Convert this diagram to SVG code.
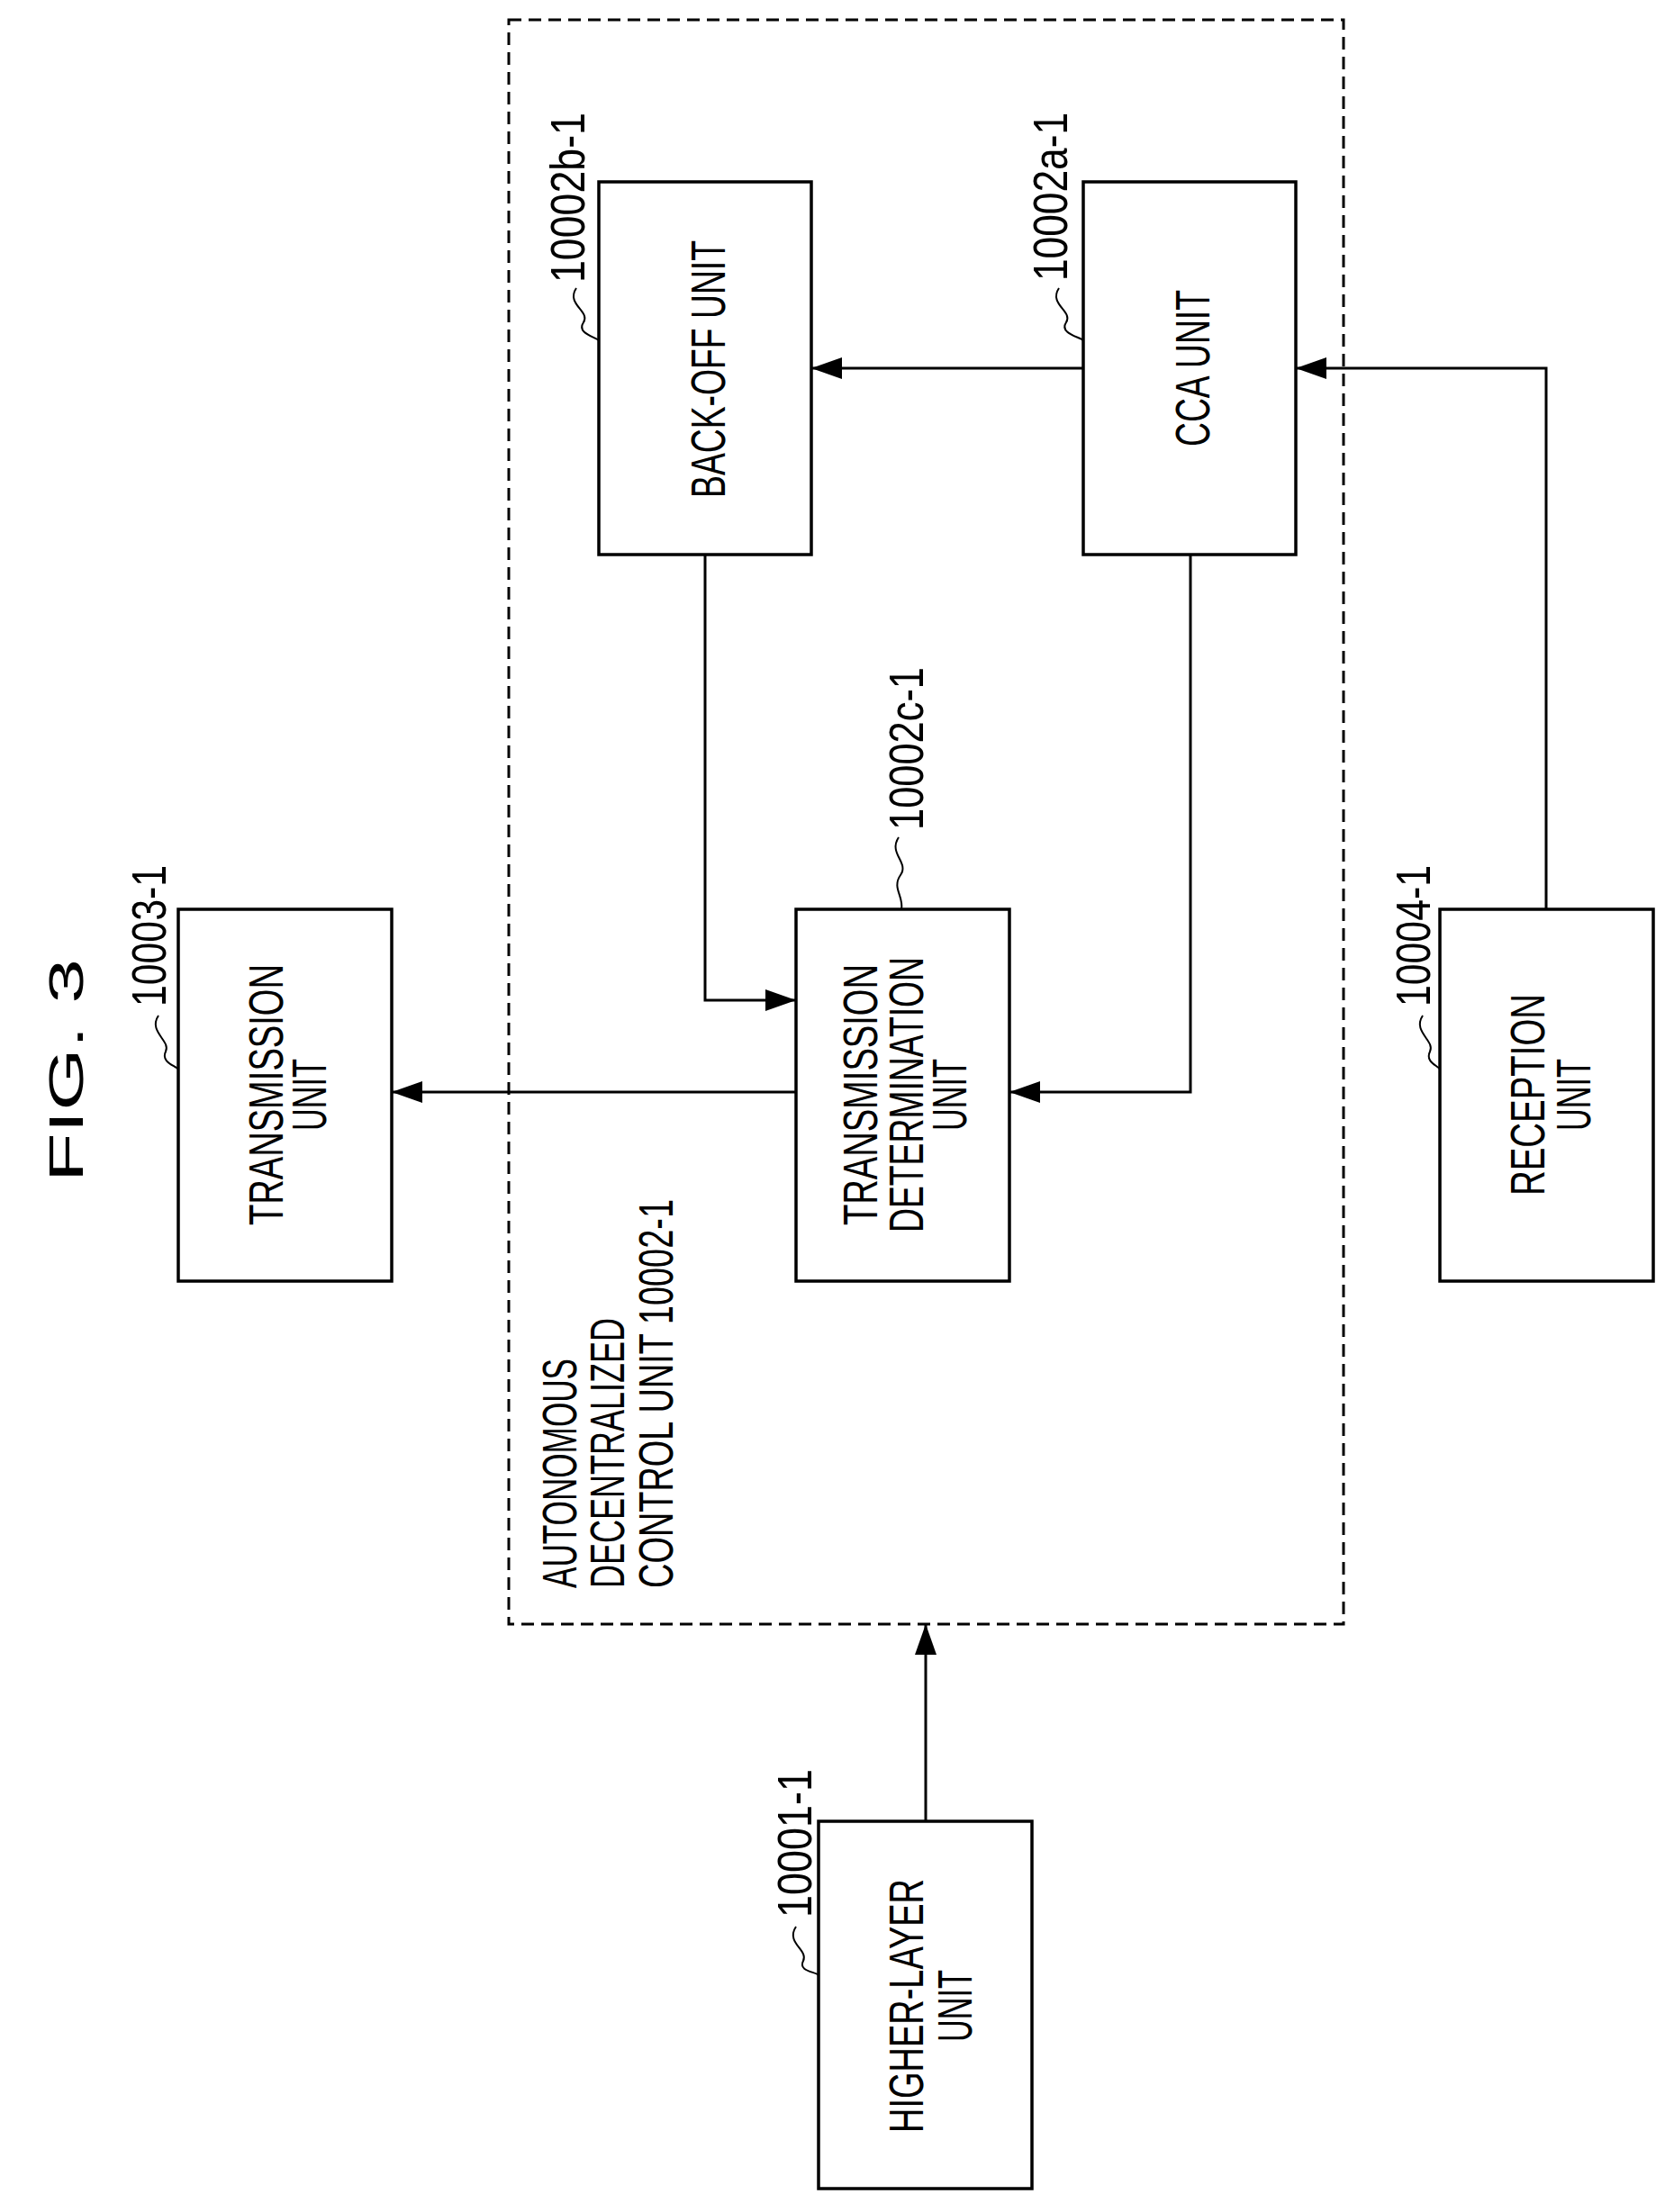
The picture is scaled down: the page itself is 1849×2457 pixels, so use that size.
<svg xmlns="http://www.w3.org/2000/svg" width="1849" height="2457" viewBox="0 0 1849 2457">
<style>
.b{fill:#fff;stroke:#000;stroke-width:3.5}
.t{font-family:"Liberation Sans",Arial,sans-serif;font-size:54px;fill:#000}
.l{font-family:"Liberation Sans",Arial,sans-serif;font-size:54px;fill:#000}
.c{fill:none;stroke:#000;stroke-width:3}
.s{fill:none;stroke:#000;stroke-width:2}
</style>
<defs>
<marker id="a" markerUnits="userSpaceOnUse" markerWidth="34" markerHeight="24" refX="34" refY="12" orient="auto"><path d="M0,0 L34,12 L0,24 Z" fill="#000"/></marker>
</defs>
<rect width="1849" height="2457" fill="#fff"/>
<text class="t" font-size="90" transform="translate(92,1313) rotate(-90)" textLength="248" lengthAdjust="spacingAndGlyphs">FIG. 3</text>
<g id="adcu">
<rect x="565" y="22" width="927" height="1782" fill="none" stroke="#000" stroke-width="3" stroke-dasharray="14,8"/>
<text class="t" transform="translate(640,1764) rotate(-90)" textLength="255" lengthAdjust="spacingAndGlyphs">AUTONOMOUS</text>
<text class="t" transform="translate(693,1764) rotate(-90)" textLength="300" lengthAdjust="spacingAndGlyphs">DECENTRALIZED</text>
<text class="t" transform="translate(747,1764) rotate(-90)" textLength="432" lengthAdjust="spacingAndGlyphs">CONTROL UNIT 10002-1</text>
</g>
<g id="backoff">
<rect class="b" x="665" y="202" width="236" height="414"/>
<text class="t" transform="translate(805,553) rotate(-90)" textLength="286" lengthAdjust="spacingAndGlyphs">BACK-OFF UNIT</text>
<text class="l" transform="translate(649,314) rotate(-90)" textLength="189" lengthAdjust="spacingAndGlyphs">10002b-1</text>
<path class="s" d="M640,320 C628,338 656,346 648,358 S660,374 665,378"/>
</g>
<g id="cca">
<rect class="b" x="1203" y="202" width="236" height="414"/>
<text class="t" transform="translate(1343,496) rotate(-90)" textLength="174" lengthAdjust="spacingAndGlyphs">CCA UNIT</text>
<text class="l" transform="translate(1185,312) rotate(-90)" textLength="187" lengthAdjust="spacingAndGlyphs">10002a-1</text>
<path class="s" d="M1176,320 C1164,338 1192,346 1184,358 S1198,374 1203,378"/>
</g>
<g id="td">
<rect class="b" x="884" y="1010" width="237" height="413"/>
<text class="t" text-anchor="middle" transform="translate(974,1216) rotate(-90)" textLength="290" lengthAdjust="spacingAndGlyphs">TRANSMISSION</text>
<text class="t" text-anchor="middle" transform="translate(1025,1216) rotate(-90)" textLength="306" lengthAdjust="spacingAndGlyphs">DETERMINATION</text>
<text class="t" text-anchor="middle" transform="translate(1073,1216) rotate(-90)" textLength="80" lengthAdjust="spacingAndGlyphs">UNIT</text>
<text class="l" transform="translate(1025,922) rotate(-90)" textLength="181" lengthAdjust="spacingAndGlyphs">10002c-1</text>
<path class="s" d="M998,930 C986,948 1010,958 1000,972 S1004,996 1001,1010"/>
</g>
<g id="tu">
<rect class="b" x="198" y="1010" width="237" height="413"/>
<text class="t" text-anchor="middle" transform="translate(314,1216) rotate(-90)" textLength="290" lengthAdjust="spacingAndGlyphs">TRANSMISSION</text>
<text class="t" text-anchor="middle" transform="translate(362,1216) rotate(-90)" textLength="80" lengthAdjust="spacingAndGlyphs">UNIT</text>
<text class="l" transform="translate(184,1118) rotate(-90)" textLength="157" lengthAdjust="spacingAndGlyphs">10003-1</text>
<path class="s" d="M176,1128 C164,1146 190,1156 184,1168 S196,1184 198,1188"/>
</g>
<g id="rx">
<rect class="b" x="1599" y="1010" width="237" height="413"/>
<text class="t" text-anchor="middle" transform="translate(1715,1216) rotate(-90)" textLength="224" lengthAdjust="spacingAndGlyphs">RECEPTION</text>
<text class="t" text-anchor="middle" transform="translate(1766,1216) rotate(-90)" textLength="80" lengthAdjust="spacingAndGlyphs">UNIT</text>
<text class="l" transform="translate(1588,1118) rotate(-90)" textLength="157" lengthAdjust="spacingAndGlyphs">10004-1</text>
<path class="s" d="M1580,1128 C1568,1146 1594,1156 1588,1168 S1598,1184 1599,1188"/>
</g>
<g id="hl">
<rect class="b" x="909" y="2023" width="237" height="408"/>
<text class="t" text-anchor="middle" transform="translate(1025,2228) rotate(-90)" textLength="282" lengthAdjust="spacingAndGlyphs">HIGHER-LAYER</text>
<text class="t" text-anchor="middle" transform="translate(1079,2228) rotate(-90)" textLength="80" lengthAdjust="spacingAndGlyphs">UNIT</text>
<text class="l" transform="translate(901,2130) rotate(-90)" textLength="165" lengthAdjust="spacingAndGlyphs">10001-1</text>
<path class="s" d="M884,2140 C872,2158 898,2166 892,2178 S906,2190 909,2194"/>
</g>
<g id="connectors">
<line class="c" x1="1203" y1="409" x2="901" y2="409" marker-end="url(#a)"/>
<polyline class="c" points="1717,1010 1717,409 1439,409" marker-end="url(#a)"/>
<polyline class="c" points="783,616 783,1111 884,1111" marker-end="url(#a)"/>
<polyline class="c" points="1322,616 1322,1213 1121,1213" marker-end="url(#a)"/>
<line class="c" x1="884" y1="1213" x2="435" y2="1213" marker-end="url(#a)"/>
<line class="c" x1="1028" y1="2023" x2="1028" y2="1804" marker-end="url(#a)"/>
</g>
</svg>
